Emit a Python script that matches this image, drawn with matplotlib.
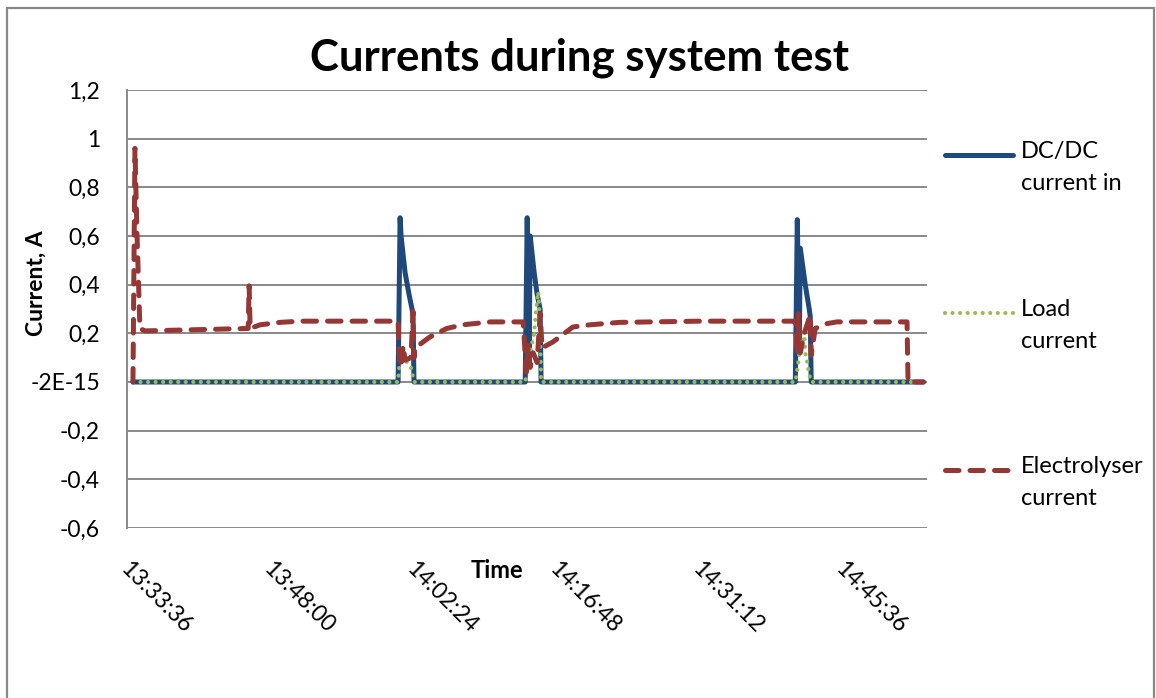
import matplotlib
matplotlib.use("Agg")
import matplotlib.pyplot as plt
from matplotlib.lines import Line2D
from matplotlib.patches import Rectangle
from matplotlib.ticker import FixedLocator, FixedFormatter

plt.rcParams['font.family'] = ['Lato', 'DejaVu Sans']

# time axis in minutes after 13:33:36
x_ticks = [0, 14.4, 28.8, 43.2, 57.6, 72.0]
x_labels = ["13:33:36", "13:48:00", "14:02:24", "14:16:48", "14:31:12", "14:45:36"]
y_ticks = [-0.6, -0.4, -0.2, 0.0, 0.2, 0.4, 0.6, 0.8, 1.0, 1.2]
y_labels = ["-0,6", "-0,4", "-0,2", "-2E-15", "0,2", "0,4", "0,6", "0,8", "1", "1,2"]

# DC/DC current in
dcdc_t = [0.6, 27.3, 27.5, 27.6, 28.0, 28.4, 28.8, 28.9, 40.1, 40.3, 40.5, 40.6,
          41.0, 41.3, 41.6, 41.7, 67.3, 67.5, 67.7, 67.8, 68.3, 68.7, 68.8, 68.9, 80.2]
dcdc_i = [0.0, 0.0, 0.675, 0.6, 0.45, 0.36, 0.28, 0.0, 0.0, 0.675, 0.1, 0.6,
          0.45, 0.36, 0.3, 0.0, 0.0, 0.667, 0.15, 0.55, 0.4, 0.3, 0.27, 0.0, 0.0]

# Load current
load_t = [0.6, 27.3, 27.5, 27.9, 28.2, 28.6, 28.9, 40.1, 40.3, 40.6, 41.0, 41.2,
          41.4, 41.5, 41.6, 41.7, 67.3, 67.5, 67.8, 68.2, 68.3, 68.5, 68.7, 68.9, 80.2]
load_i = [0.0, 0.0, 0.11, 0.1, 0.08, 0.06, 0.0, 0.0, 0.05, 0.12, 0.2, 0.3,
          0.37, 0.32, 0.2, 0.0, 0.0, 0.05, 0.15, 0.22, 0.12, 0.08, 0.03, 0.0, 0.0]

# Electrolyser current
elec_t = [0.6, 0.8, 1.0, 1.3, 1.8, 12.2, 12.3, 12.4, 13.4, 15.4, 17.4, 27.3,
          27.4, 27.6, 27.8, 28.0, 28.6, 28.8, 28.9, 29.0, 30.5, 32.2, 33.8, 36.6,
          39.9, 40.2, 40.4, 40.6, 40.9, 41.3, 41.6, 41.8, 42.9, 44.9, 46.6, 49.6,
          57.7, 67.3, 67.5, 67.6, 67.8, 68.2, 68.8, 68.9, 69.3, 70.5, 71.5, 78.55,
          78.65, 80.2]
elec_i = [0.0, 0.96, 0.62, 0.22, 0.21, 0.22, 0.395, 0.22, 0.235, 0.245, 0.25, 0.25,
          0.12, 0.06, 0.15, 0.09, 0.1, 0.29, 0.1, 0.14, 0.185, 0.22, 0.235, 0.247,
          0.247, 0.04, 0.15, 0.06, 0.12, 0.08, 0.28, 0.14, 0.165, 0.226, 0.235, 0.245,
          0.25, 0.25, 0.11, 0.28, 0.12, 0.2, 0.275, 0.11, 0.22, 0.24, 0.247, 0.247,
          0.0, 0.0]

blue = '#1F497D'
green = '#9BBB59'
red = '#953735'
grid_col = '#898989'

blue_style = dict(color=blue, lw=3.6, solid_capstyle='round', solid_joinstyle='round')
green_style = dict(color=green, lw=3.0, dashes=(0.01, 1.8), dash_capstyle='round')
red_style = dict(color=red, lw=3.6, dashes=(2.7, 2.2), dash_capstyle='round')

fig = plt.figure(figsize=(11.56, 6.98), dpi=100)
ax = fig.add_axes([127 / 1156, 1 - 528 / 698, 800 / 1156, 438 / 698])

ax.plot(dcdc_t, dcdc_i, zorder=3, **blue_style)
ax.plot(load_t, load_i, zorder=4, **green_style)
ax.plot(elec_t, elec_i, zorder=5, **red_style)

ax.set_xlim(0, 80.56)
ax.set_ylim(-0.6, 1.2)
ax.yaxis.set_major_locator(FixedLocator(y_ticks))
ax.yaxis.set_major_formatter(FixedFormatter(y_labels))
ax.set_xticks(x_ticks)
ax.set_xticklabels([])
ax.grid(axis='y', color=grid_col, lw=1.4)
ax.set_axisbelow(True)
for s in ['top', 'right', 'bottom']:
    ax.spines[s].set_visible(False)
ax.spines['left'].set_color(grid_col)
ax.spines['left'].set_linewidth(1.4)
ax.tick_params(axis='y', length=0, pad=19.5, labelsize=16.5)
ax.tick_params(axis='x', length=0)

# rotated time labels
for t, lab in zip(x_ticks, x_labels):
    ax.annotate(lab, xy=(t, -0.6), xycoords='data', xytext=(4, -30),
                textcoords='offset pixels', rotation=-45, rotation_mode='anchor',
                ha='left', va='top', fontsize=16.5)

fig.text(580 / 1156, 1 - 58 / 698, "Currents during system test",
         ha='center', va='center', fontsize=31.5, fontweight='bold')
fig.text(36 / 1156, 1 - 283 / 698, "Current, A", rotation=90,
         ha='center', va='center', fontsize=16.5, fontweight='bold')
fig.text(497 / 1156, 1 - 570 / 698, "Time",
         ha='center', va='center', fontsize=17, fontweight='bold')

# legend
leg_rows = [(155, blue_style, "DC/DC\ncurrent in"),
            (313, green_style, "Load\ncurrent"),
            (470, red_style, "Electrolyser\ncurrent")]
for y, style, lab in leg_rows:
    yy = 1 - y / 698
    fig.add_artist(Line2D([945 / 1156, 1013 / 1156], [yy, yy],
                          transform=fig.transFigure, **style))
    fig.text(1021 / 1156, 1 - (y - 14) / 698, lab, ha='left', va='top',
             fontsize=17, linespacing=1.65)

# chart border
fig.add_artist(Rectangle((7 / 1156, -0.05), 1147 / 1156, 1 - 8 / 698 + 0.05,
                         transform=fig.transFigure, fill=False,
                         edgecolor=grid_col, lw=1.6))

fig.savefig("out.png", dpi=100)
